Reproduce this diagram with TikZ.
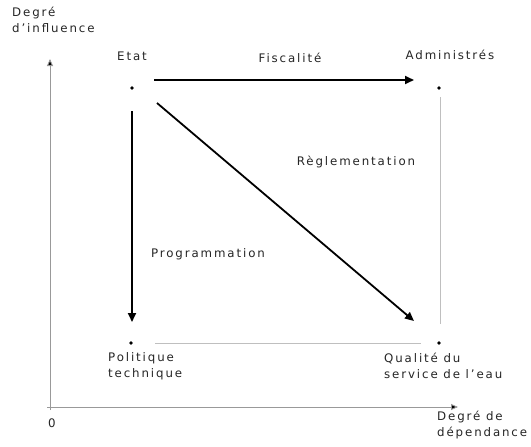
\documentclass[tikz,border=0pt]{standalone}
\usepackage{fontspec}
\setmainfont{DejaVu Sans}[LetterSpace=16]
\usetikzlibrary{arrows.meta}
\begin{document}
\begin{tikzpicture}[x=1pt,y=-1pt,
  lab/.style={inner sep=0pt, font=\fontsize{11.8}{16}\selectfont, text=black!85},
  labl/.style={lab, anchor=north west, align=left},
  dot/.style={circle, fill=black, inner sep=0pt, minimum size=3.6pt},
  axis/.style={draw=black!40, line width=0.9pt, -{Triangle[length=7pt,width=6pt,fill=black]}},
  frame/.style={draw=black!25, line width=1pt},
  bigarrow/.style={draw=black, line width=1.8pt, -{Triangle[length=9pt,width=8pt]}}]
\useasboundingbox[fill=white] (0,0) rectangle (531,447);
% axes
\coordinate (o) at (50,410);
\coordinate (ytip) at (50,59);
\coordinate (xo) at (47,407);
\coordinate (xtip) at (458,407);
\draw[axis] (o) -- (ytip);
\draw[axis] (xo) -- (xtip);
\node[labl] (yl) at (12,7) {Degré\\d'influence};
\node[labl] (xl) at (437,411) {Degré de\\dépendance};
\node[lab] (zero) at (52,423) {0};
% dots
\node[dot] (etat) at (132,88) {};
\node[dot] (admin) at (439,88) {};
\node[dot] (pol) at (131,343) {};
\node[dot] (qual) at (439,343) {};
% labels
\node[lab] (etatl) at (132,56) {Etat};
\node[lab] (adminl) at (450,55) {Administrés};
\node[labl] (poll) at (108,352) {Politique\\technique};
\node[labl] (quall) at (384,353) {Qualité du\\service de l'eau};
\node[lab] (fisc) at (290,58) {Fiscalité};
\node[lab] (regl) at (356,162) {Règlementation};
\node[lab] (prog) at (208,254) {Programmation};
% frame lines
\coordinate (r1) at (440,97);
\coordinate (r2) at (440,324);
\coordinate (b1) at (155,343);
\coordinate (b2) at (421,343);
\draw[frame] (r1) -- (r2);
\draw[frame] (b1) -- (b2);
% arrows
\coordinate (f1) at (154,80);
\coordinate (f2) at (414,80);
\draw[bigarrow] (f1) -- (f2);
\coordinate (p1) at (132,111);
\coordinate (p2) at (132,322);
\draw[bigarrow] (p1) -- (p2);
\coordinate (d1) at (157,103);
\coordinate (d2) at (414,321);
\draw[bigarrow] (d1) -- (d2);
\end{tikzpicture}
\end{document}
